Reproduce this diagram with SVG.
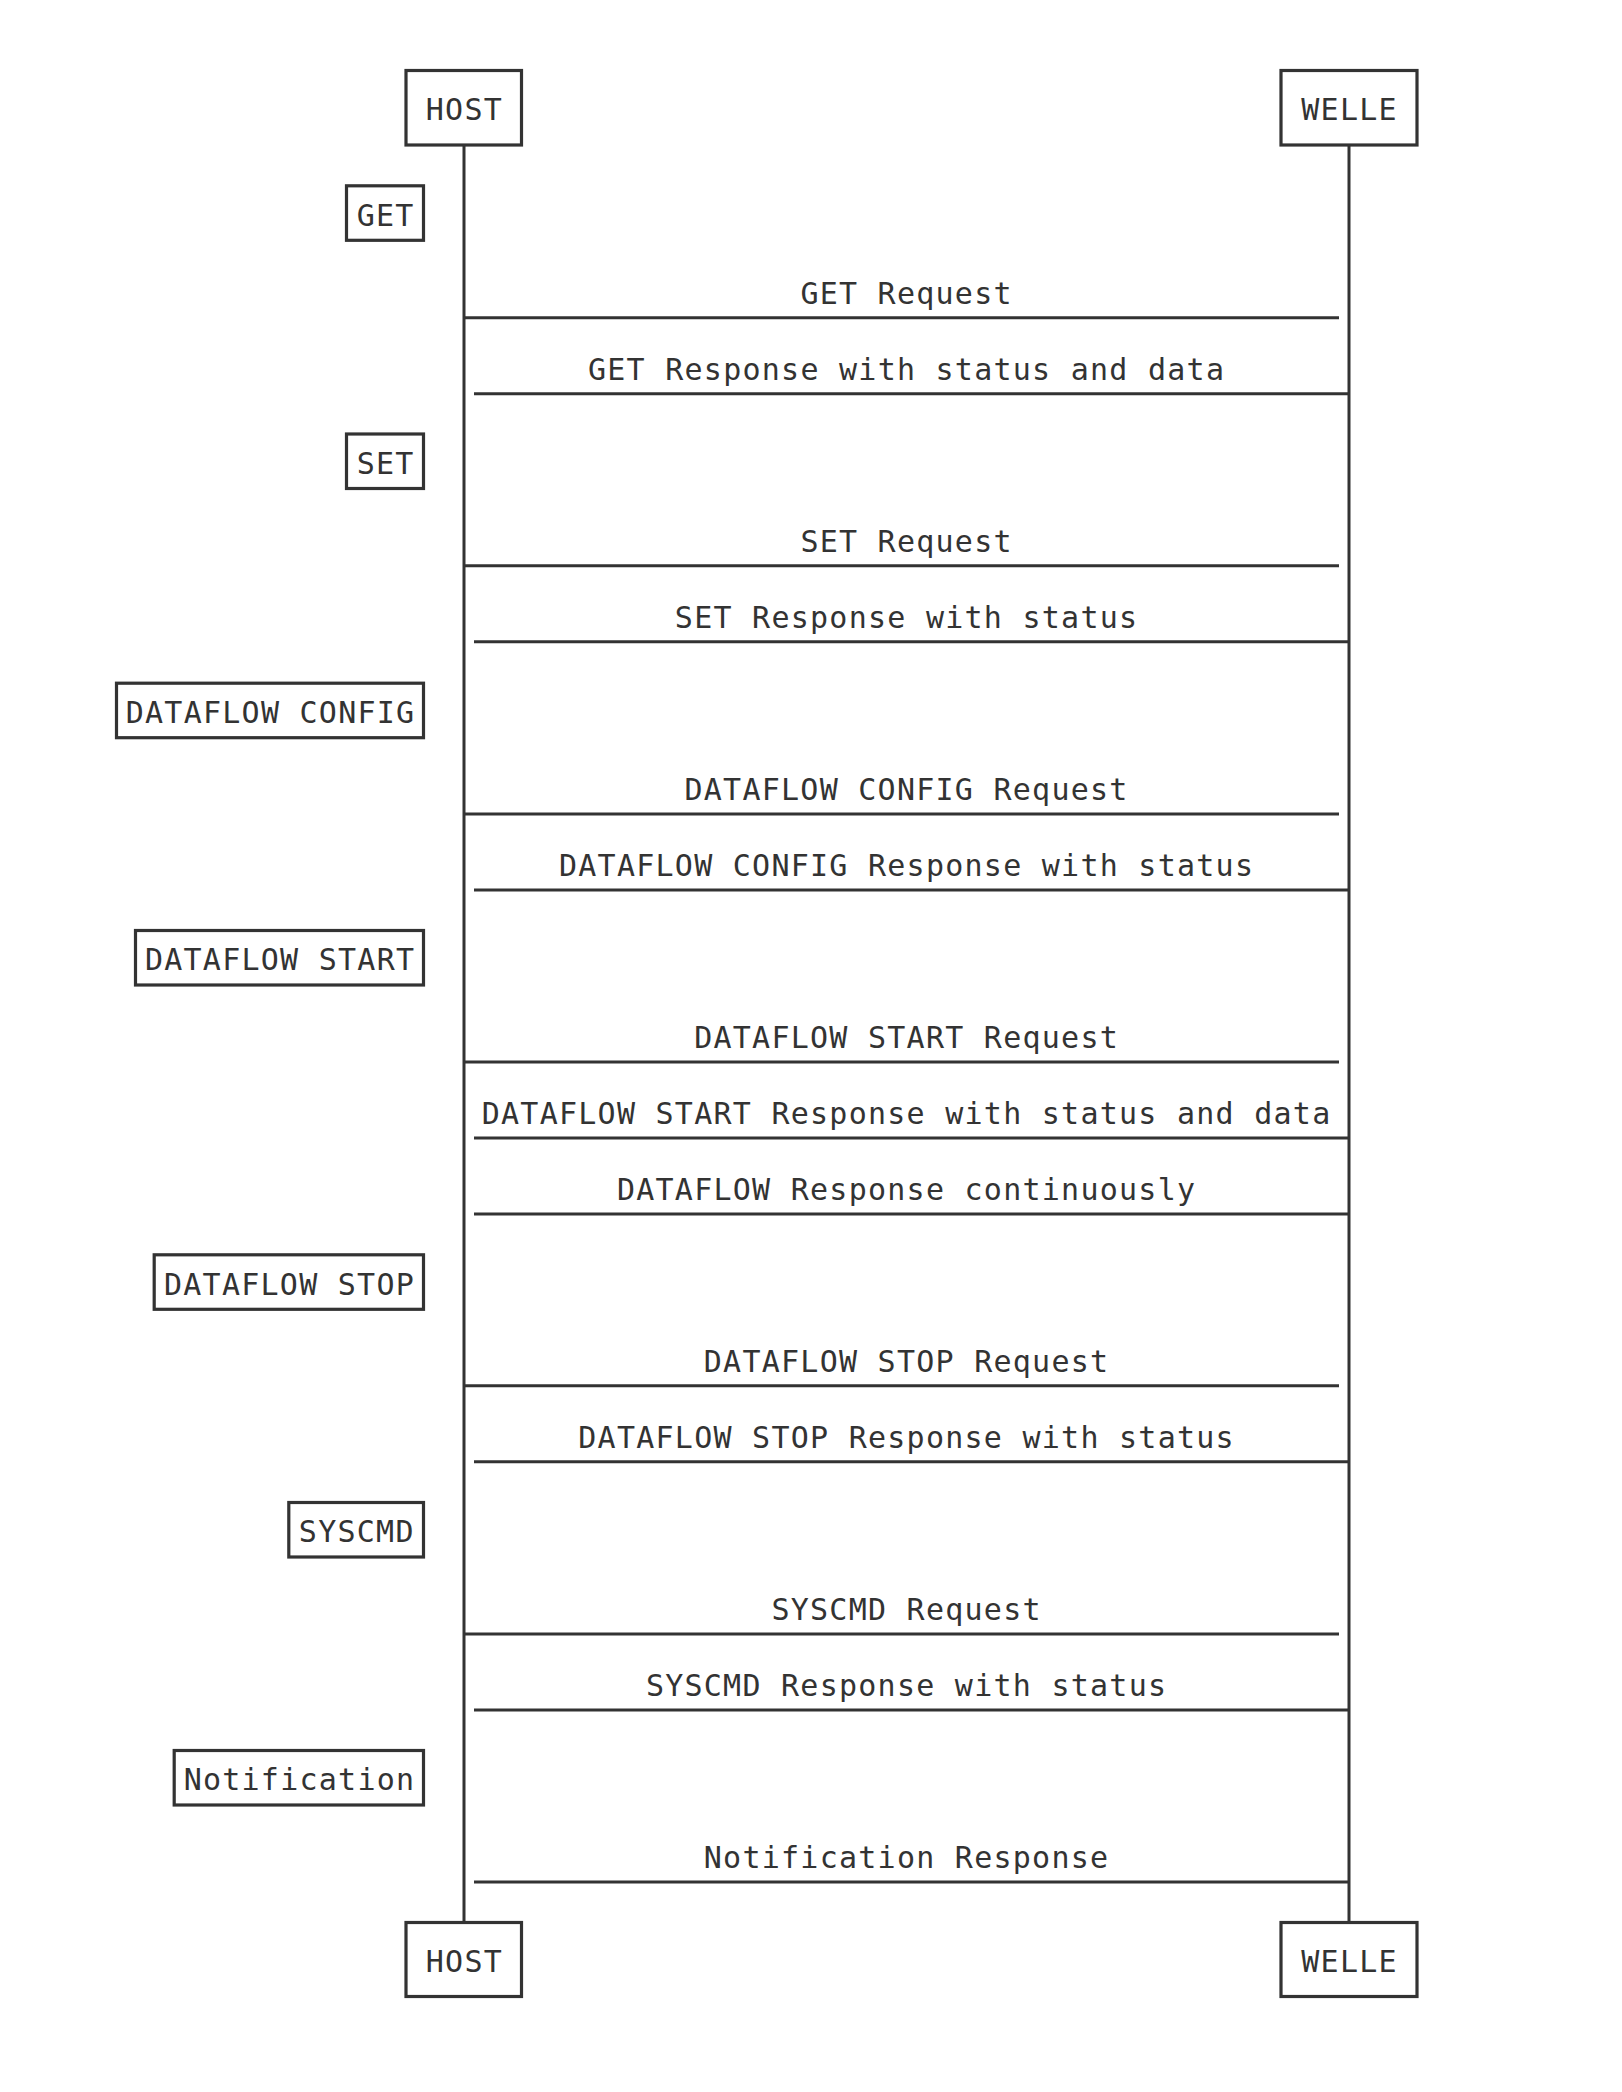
<svg xmlns="http://www.w3.org/2000/svg" width="1622" height="2092" viewBox="0 0 1622 2092">
<style>
.box{fill:#fff;stroke:#333;stroke-width:3.2}
.ln{stroke:#333;stroke-width:3;fill:none}
text{font-family:"DejaVu Sans Mono","Liberation Mono",monospace;font-size:30px;letter-spacing:1.25px;fill:#333;text-anchor:middle}
</style>
<rect width="1622" height="2092" fill="#fff"/>
<g id="connectors">
  <line class="ln" x1="464" y1="146" x2="464" y2="1922"/>
  <line class="ln" x1="1349" y1="146" x2="1349" y2="1922"/>
  <g id="m1"><line class="ln" x1="464" y1="317.7" x2="1339" y2="317.7"/><text x="906.6" y="304">GET Request</text></g>
  <g id="m2"><line class="ln" x1="474" y1="393.7" x2="1349" y2="393.7"/><text x="906.6" y="379.5">GET Response with status and data</text></g>
  <g id="m3"><line class="ln" x1="464" y1="565.8" x2="1339" y2="565.8"/><text x="906.6" y="552">SET Request</text></g>
  <g id="m4"><line class="ln" x1="474" y1="641.8" x2="1349" y2="641.8"/><text x="906.6" y="627.6">SET Response with status</text></g>
  <g id="m5"><line class="ln" x1="464" y1="814" x2="1339" y2="814"/><text x="906.6" y="800.3">DATAFLOW CONFIG Request</text></g>
  <g id="m6"><line class="ln" x1="474" y1="890" x2="1349" y2="890"/><text x="906.6" y="876">DATAFLOW CONFIG Response with status</text></g>
  <g id="m7"><line class="ln" x1="464" y1="1062" x2="1339" y2="1062"/><text x="906.6" y="1048.3">DATAFLOW START Request</text></g>
  <g id="m8"><line class="ln" x1="474" y1="1138" x2="1349" y2="1138"/><text x="906.6" y="1124">DATAFLOW START Response with status and data</text></g>
  <g id="m9"><line class="ln" x1="474" y1="1214" x2="1349" y2="1214"/><text x="906.6" y="1200">DATAFLOW Response continuously</text></g>
  <g id="m10"><line class="ln" x1="464" y1="1385.7" x2="1339" y2="1385.7"/><text x="906.6" y="1372">DATAFLOW STOP Request</text></g>
  <g id="m11"><line class="ln" x1="474" y1="1461.7" x2="1349" y2="1461.7"/><text x="906.6" y="1447.7">DATAFLOW STOP Response with status</text></g>
  <g id="m12"><line class="ln" x1="464" y1="1634" x2="1339" y2="1634"/><text x="906.6" y="1620.3">SYSCMD Request</text></g>
  <g id="m13"><line class="ln" x1="474" y1="1710" x2="1349" y2="1710"/><text x="906.6" y="1696">SYSCMD Response with status</text></g>
  <g id="m14"><line class="ln" x1="474" y1="1882" x2="1349" y2="1882"/><text x="906.6" y="1868">Notification Response</text></g>
</g>
<g id="host-top"><rect class="box" x="406" y="70.5" width="115.5" height="74.5"/><text x="464.4" y="119.5">HOST</text></g>
<g id="welle-top"><rect class="box" x="1281" y="70.5" width="136" height="74.5"/><text x="1349.6" y="119.5">WELLE</text></g>
<g id="host-bottom"><rect class="box" x="406" y="1922.5" width="115.5" height="74"/><text x="464.4" y="1971.5">HOST</text></g>
<g id="welle-bottom"><rect class="box" x="1281" y="1922.5" width="136" height="74"/><text x="1349.6" y="1971.5">WELLE</text></g>
<g id="get"><rect class="box" x="346.5" y="185.8" width="77" height="54.5"/><text x="385.6" y="225.5">GET</text></g>
<g id="set"><rect class="box" x="346.5" y="434" width="77" height="54.5"/><text x="385.6" y="473.7">SET</text></g>
<g id="dataflow-config"><rect class="box" x="116.5" y="683.2" width="307" height="54.5"/><text x="270.6" y="722.9">DATAFLOW CONFIG</text></g>
<g id="dataflow-start"><rect class="box" x="135.5" y="930.5" width="288" height="54.5"/><text x="280.1" y="970.2">DATAFLOW START</text></g>
<g id="dataflow-stop"><rect class="box" x="154.2" y="1254.8" width="269.3" height="54.5"/><text x="289.5" y="1294.5">DATAFLOW STOP</text></g>
<g id="syscmd"><rect class="box" x="288.8" y="1502.5" width="134.7" height="54.5"/><text x="356.8" y="1542.2">SYSCMD</text></g>
<g id="notification"><rect class="box" x="174.2" y="1750.5" width="249.3" height="54.5"/><text x="299.5" y="1790.2">Notification</text></g>
</svg>
